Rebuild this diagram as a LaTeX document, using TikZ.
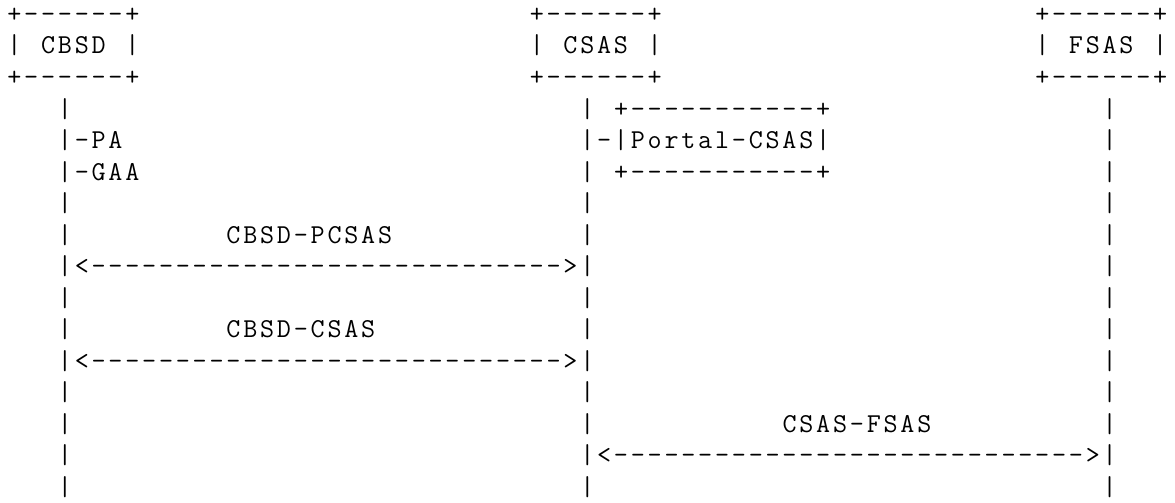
\documentclass[tikz,border=0pt]{standalone}
\makeatletter
\newlength\asccw
\setlength\asccw{16.85pt}
\def\asciistr#1{\asciistr@i#1\relax}
\def\asciistr@i#1{\ifx#1\relax\else\hbox to\asccw{\hss#1\hss}\expandafter\asciistr@i\fi}
\makeatother
\tikzset{
  ascii/.style={anchor=base west, inner sep=0pt, outer sep=0pt,
    font=\ttfamily\fontsize{27.3}{30}\selectfont}
}
\newcommand\asgseg[4]{\node[ascii] (#1) at ({(6+#2*16.85)*1pt},{-(22.5+(#3-1)*31.5)*1pt}) {\asciistr{#4}};}
\begin{document}
\begin{tikzpicture}
\useasboundingbox[fill=white] (0,0) rectangle (1175pt,-503pt);
% boxes
\asgseg{cbsdtop}{0}{1}{+------+}
\asgseg{csastop}{31}{1}{+------+}
\asgseg{fsastop}{61}{1}{+------+}
\asgseg{cbsdl}{0}{2}{|}\asgseg{cbsd}{2}{2}{CBSD}\asgseg{cbsdr}{7}{2}{|}
\asgseg{csasl}{31}{2}{|}\asgseg{csas}{33}{2}{CSAS}\asgseg{csasr}{38}{2}{|}
\asgseg{fsasl}{61}{2}{|}\asgseg{fsas}{63}{2}{FSAS}\asgseg{fsasr}{68}{2}{|}
\asgseg{cbsdbot}{0}{3}{+------+}
\asgseg{csasbot}{31}{3}{+------+}
\asgseg{fsasbot}{61}{3}{+------+}
% lifelines
\foreach \r in {4,7,8,10,11,13,14,15,16} {\asgseg{cl\r}{3}{\r}{|}}
\foreach \r in {4,6,7,8,10,11,13,14,16} {\asgseg{sl\r}{34}{\r}{|}}
\foreach \r in {4,...,14,16} {\asgseg{fl\r}{65}{\r}{|}}
% CBSD branches
\asgseg{pa}{3}{5}{|-PA}
\asgseg{gaa}{3}{6}{|-GAA}
% Portal-CSAS
\asgseg{portaltop}{36}{4}{+-----------+}
\asgseg{portal}{34}{5}{|-|Portal-CSAS|}
\asgseg{portalbot}{36}{6}{+-----------+}
% interfaces
\asgseg{lblpcsas}{13}{8}{CBSD-PCSAS}
\asgseg{arrpcsas}{3}{9}{|<---------------------------->|}
\asgseg{lblcsas}{13}{11}{CBSD-CSAS}
\asgseg{arrcsas}{3}{12}{|<---------------------------->|}
\asgseg{lblfsas}{46}{14}{CSAS-FSAS}
\asgseg{arrfsas}{34}{15}{|<---------------------------->|}
\end{tikzpicture}
\end{document}
